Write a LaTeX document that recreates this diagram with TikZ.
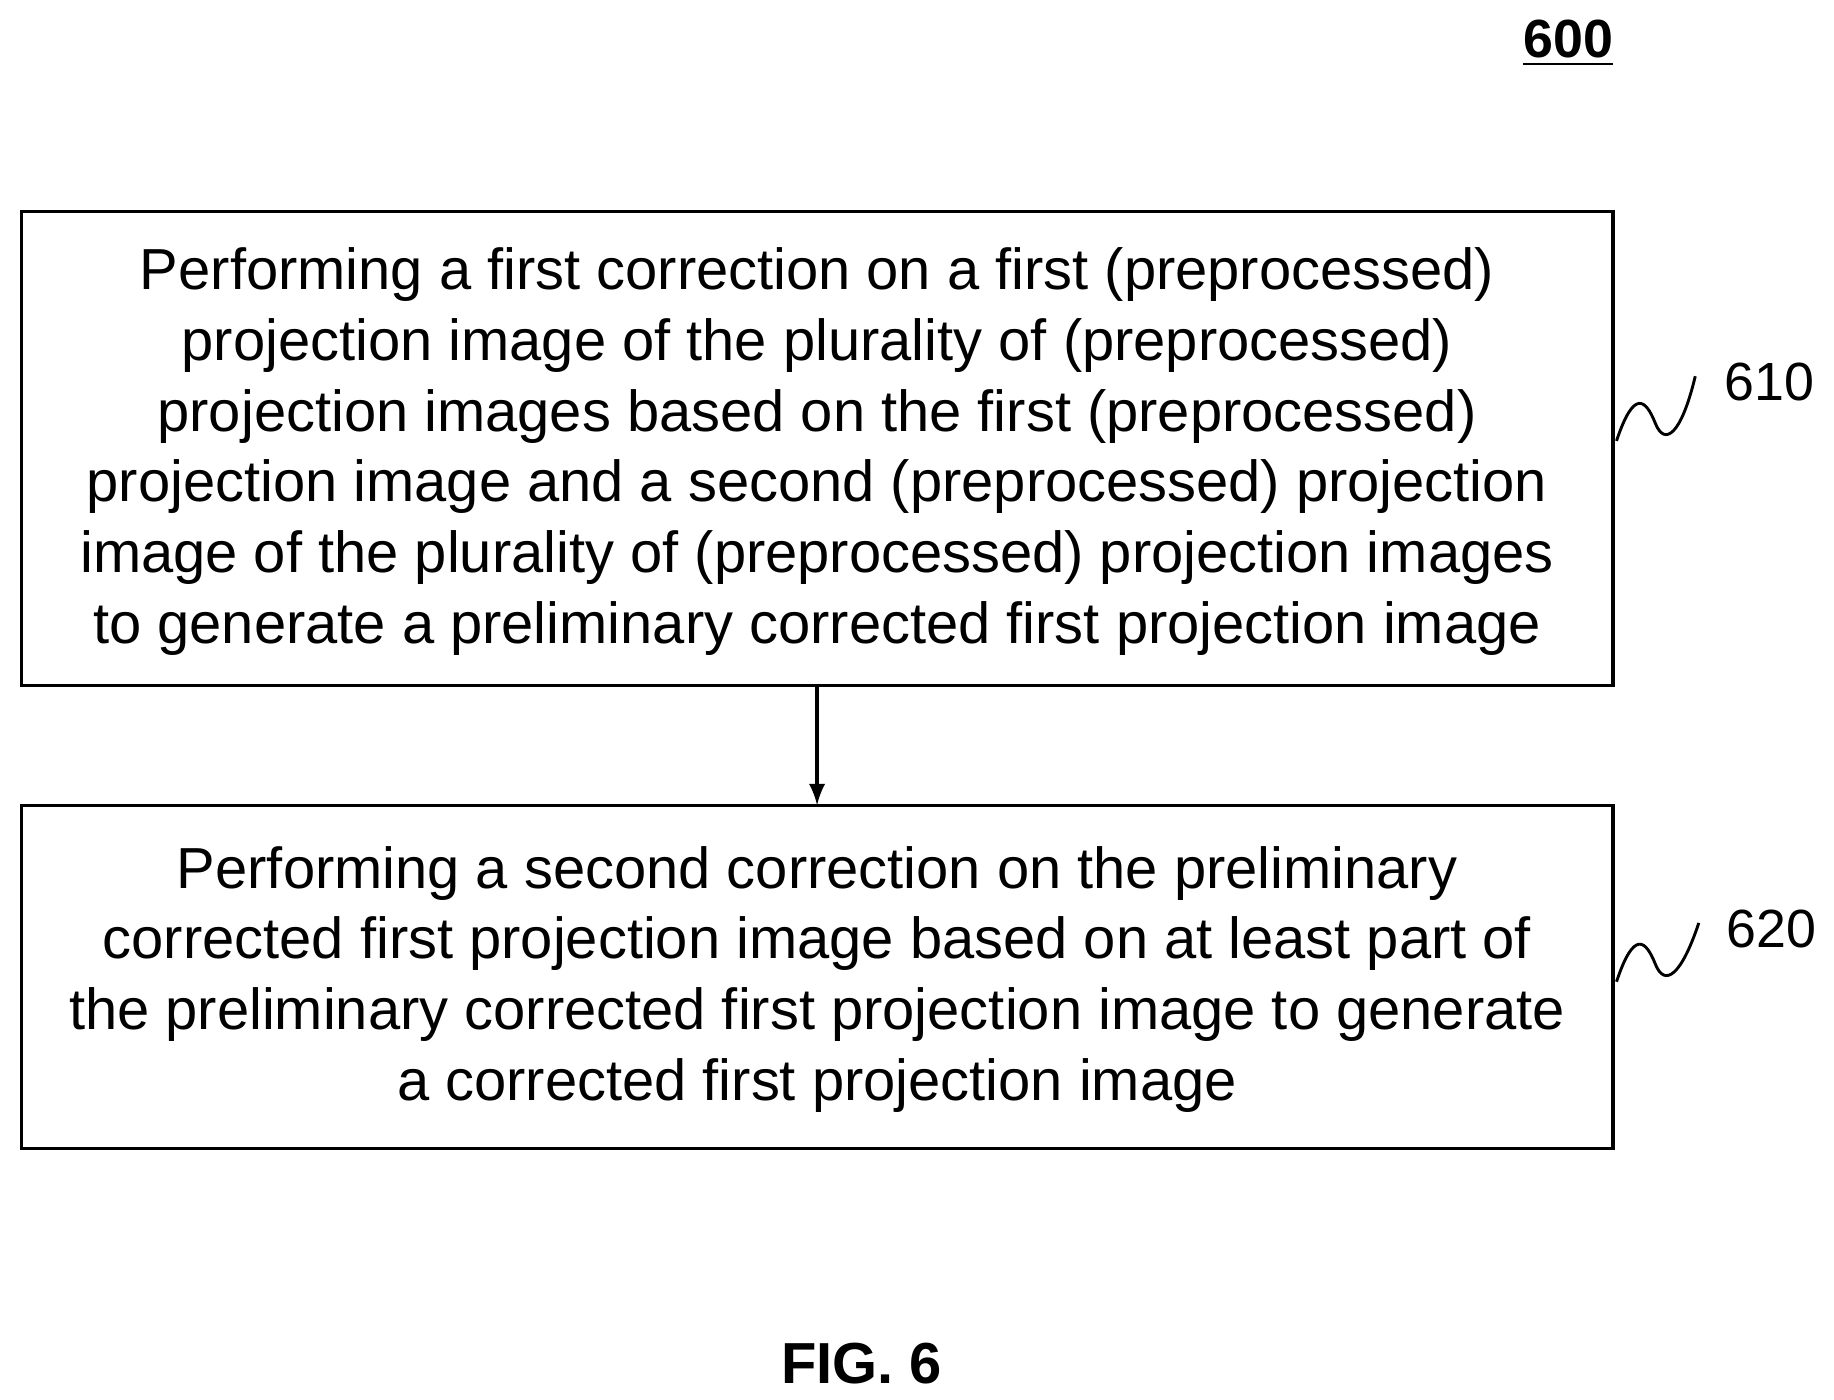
\documentclass[tikz,border=0pt]{standalone}
\usepackage{fontspec}
\setmainfont{Liberation Sans}
\begin{document}
\begin{tikzpicture}[x=0.01cm,y=-0.01cm,
 txt/.style={align=center,font=\fontsize{14}{17.1}\selectfont},
 squig/.style={line width=0.7pt}]
\useasboundingbox (0,0) rectangle (1560,1190);
\draw[line width=0.8pt] (18,180) rectangle (1372,583);
\draw[line width=0.8pt] (18,685) rectangle (1372,977);
\coordinate (b1) at (695,384);
\coordinate (b2) at (695,833);
\node[txt] (t1) at (b1) {Performing a first correction on a first (preprocessed)\\projection image of the plurality of (preprocessed)\\projection images based on the first (preprocessed)\\projection image and a second (preprocessed) projection\\image of the plurality of (preprocessed) projection images\\to generate a preliminary corrected first projection image};
\node[txt] (t2) at (b2) {Performing a second correction on the preliminary\\corrected first projection image based on at least part of\\the preliminary corrected first projection image to generate\\a corrected first projection image};
\coordinate (a1) at (695,583);
\coordinate (a2) at (695,685);
\draw[line width=0.8pt,-latex] (a1) -- (a2);
\draw[squig] (1375,375) .. controls (1390,330) and (1400,340) .. (1408,360) .. controls (1416,380) and (1430,370) .. (1442,320);
\draw[squig] (1375,835) .. controls (1390,790) and (1400,800) .. (1408,820) .. controls (1416,840) and (1430,830) .. (1445,785);
\node[font=\fontsize{13}{15}\selectfont] (l1) at (1505,325) {610};
\node[font=\fontsize{13}{15}\selectfont] (l2) at (1507,790) {620};
\node[font=\bfseries\fontsize{13}{15}\selectfont] (n600) at (1334,37) {\underline{600}};
\node[font=\bfseries\fontsize{14}{16}\selectfont] (fig) at (733,1160) {FIG. 6};
\end{tikzpicture}
\end{document}
